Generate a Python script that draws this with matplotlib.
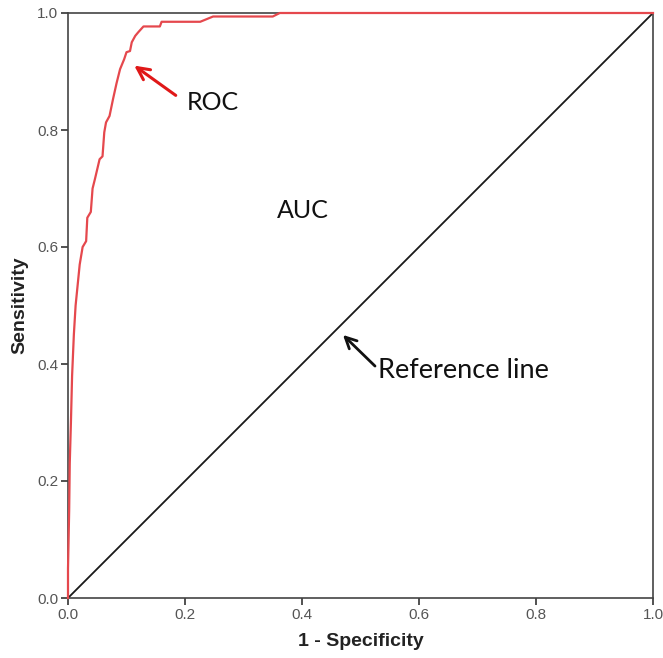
import matplotlib
matplotlib.use('Agg')
import matplotlib.pyplot as plt

# ROC curve points
fpr = [0.0, 0.0, 0.002, 0.003, 0.005, 0.007, 0.010, 0.013, 0.016, 0.020,
       0.025, 0.031, 0.033, 0.039, 0.042, 0.046, 0.054, 0.059, 0.062, 0.065,
       0.071, 0.077, 0.083, 0.089, 0.096, 0.100, 0.106, 0.109, 0.115, 0.120,
       0.129, 0.157, 0.160, 0.226, 0.248, 0.350, 0.362, 1.0]
tpr = [0.0, 0.05, 0.15, 0.23, 0.30, 0.38, 0.45, 0.50, 0.53, 0.57,
       0.60, 0.61, 0.65, 0.66, 0.70, 0.716, 0.75, 0.755, 0.796, 0.813,
       0.824, 0.853, 0.88, 0.904, 0.921, 0.933, 0.935, 0.95, 0.961, 0.967,
       0.977, 0.977, 0.985, 0.985, 0.994, 0.994, 1.0, 1.0]

ref_x = [0.0, 1.0]
ref_y = [0.0, 1.0]

ticks = [0.0, 0.2, 0.4, 0.6, 0.8, 1.0]
tick_labels = ['0.0', '0.2', '0.4', '0.6', '0.8', '1.0']

fig = plt.figure(figsize=(6.63, 6.58), dpi=100)
ax = fig.add_axes([68 / 663, 60 / 658, 585 / 663, 585 / 658])

ax.plot(ref_x, ref_y, color='#1a1a1a', linewidth=1.3, zorder=2)
ax.plot(fpr, tpr, color='#e5484d', linewidth=1.6, zorder=3, clip_on=False)

ax.set_xlim(0, 1)
ax.set_ylim(0, 1)
ax.set_xticks(ticks)
ax.set_xticklabels(tick_labels)
ax.set_yticks(ticks)
ax.set_yticklabels(tick_labels)
ax.tick_params(direction='out', length=5, width=1.2, color='#333333',
               labelsize=11, labelcolor='#555555', pad=2)
for s in ax.spines.values():
    s.set_color('#444444')
    s.set_linewidth(1.2)

lab_font = dict(family='Liberation Sans', fontsize=14, fontweight='bold', color='#222222')
ax.set_xlabel('1 - Specificity', labelpad=8, **lab_font)
ax.set_ylabel('Sensitivity', labelpad=6, **lab_font)
for t in ax.get_xticklabels() + ax.get_yticklabels():
    t.set_family('Liberation Sans')

ann_font = dict(family='Lato', fontsize=18, color='#111111')

# ROC label with red arrow
ax.annotate('', xy=((132 - 68) / 585, (598 - 64) / 585),
            xytext=((178 - 68) / 585, (598 - 97) / 585),
            arrowprops=dict(arrowstyle='->', color='#e01818', lw=2.2,
                            mutation_scale=22))
ax.text((187 - 68) / 585, (598 - 102) / 585, 'ROC', ha='left', va='center', **ann_font)

ax.text((277 - 68) / 585, (598 - 210) / 585, 'AUC', ha='left', va='center', **ann_font)

# Reference line label with black arrow
ax.annotate('', xy=((341 - 68) / 585, (598 - 333) / 585),
            xytext=((377 - 68) / 585, (598 - 368) / 585),
            arrowprops=dict(arrowstyle='->', color='#111111', lw=2.0,
                            mutation_scale=20))
ax.text((378 - 68) / 585, (598 - 370) / 585, 'Reference line', ha='left', va='center',
        family='Lato', fontsize=19.5, color='#111111')

fig.savefig('out.png', dpi=100, facecolor='white')
